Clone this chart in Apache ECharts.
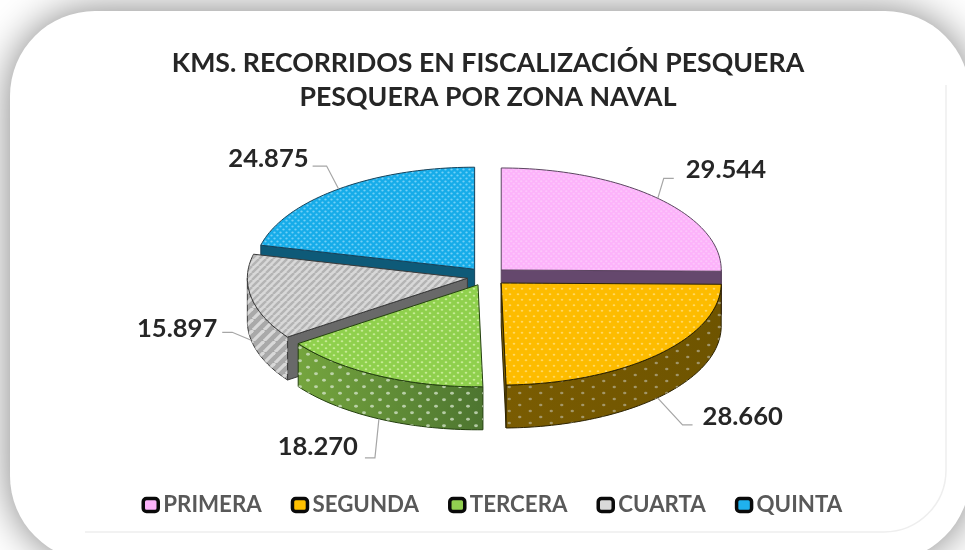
<!DOCTYPE html>
<html>
<head>
<meta charset="utf-8">
<style>html,body{margin:0;padding:0;background:#fff}#c{width:965px;height:550px;filter:blur(.45px)}</style>
<script src="https://cdn.jsdelivr.net/npm/echarts@6/dist/echarts.min.js"></script>
</head>
<body>
<div id="c"></div>
<script>
const titleText = 'KMS. RECORRIDOS EN FISCALIZACIÓN PESQUERA\nPESQUERA POR ZONA NAVAL';
const categories = ['PRIMERA', 'SEGUNDA', 'TERCERA', 'CUARTA', 'QUINTA'];
const values = [29544, 28660, 18270, 15897, 24875];

// ---- layout and styling (not data) ----
const drawOrder = [4, 0, 3, 2, 1];
const PIE = {cx: 487, cy: 276.5, rx: 220, ry: 102, depth: 43, explode: 20};
const leaders = [
  {dx: 6, dy: -20, run: 10, tx: 12, ty: -9},
  {dx: 25, dy: 27, run: 10, tx: 10, ty: -8},
  {dx: -4, dy: 39, run: -10, tx: -7, ty: -11},
  {dx: -19, dy: -8, run: -10, tx: -5, ty: -4},
  {dx: -12, dy: -23, run: -14, tx: -4, ty: -7}
];
function tile(w, h, base, draw) {
  const c = document.createElement('canvas');
  c.width = w; c.height = h;
  const g = c.getContext('2d');
  if (base) { g.fillStyle = base; g.fillRect(0, 0, w, h); }
  draw(g, w, h);
  return {type: 'pattern', image: c, repeat: 'repeat'};
}
function dots(w, h, base, col, r, stagger) {
  return tile(w, h, base, function (g) {
    g.fillStyle = col;
    const spots = stagger ? [[w / 4, h / 4], [3 * w / 4, 3 * h / 4]] : [[w / 2, h / 2]];
    spots.forEach(function (p) { g.beginPath(); g.ellipse(p[0], p[1], r * 1.2, r * 0.9, 0, 0, 7); g.fill(); });
  });
}
function stripes(w, base, col, lw) {
  return tile(w, w, base, function (g) {
    g.strokeStyle = col; g.lineWidth = lw;
    [-w, 0, w].forEach(function (o) {
      g.beginPath(); g.moveTo(o, w); g.lineTo(o + w, 0); g.stroke();
    });
  });
}
function vgrad(a, b) {
  return {type: 'linear', x: 0, y: 0, x2: 1, y2: 0, colorStops: [{offset: 0, color: a}, {offset: 1, color: b}]};
}
const looks = [
  {color: '#fdb3fb', top: dots(5, 5, '#fcb2fa', '#fcc6fb', 1, true), edge: '#5b4560', wall: '#5f4263', wallDots: null, face: '#65486d'},
  {color: '#ffc000', top: dots(8, 11, '#fdbc00', '#ffd861', 1.1, true), edge: '#2c2200', wall: vgrad('#7a5c02', '#6e5400'), wallDots: dots(21, 12, null, 'rgba(200,200,190,.55)', 1.4, true), face: '#7f6000'},
  {color: '#92d050', top: dots(8, 7, '#8fd04d', '#c6ea95', 1.1, true), edge: '#24400f', wall: vgrad('#75a53e', '#4d7530'), wallDots: dots(16, 13, null, 'rgba(215,230,205,.75)', 1.6, true), face: '#4f7a2d'},
  {color: '#d9d9d9', top: stripes(7, '#d8d8d8', '#b4b4b4', 2.4), edge: '#3a3a3a', wall: '#a9a9a9', wallDots: stripes(11, null, 'rgba(225,225,225,.85)', 3.2), face: '#696969'},
  {color: '#1fb1ee', top: dots(6, 6, '#16ace9', '#72d0f6', 1, true), edge: '#17425a', wall: '#0d506b', wallDots: null, face: '#0e5a78'}
];
const total = values.reduce(function (a, b) { return a + b; }, 0);
function startOf(i) {
  let s = 0;
  for (let k = 0; k < i; k++) s += values[k];
  return s / total * 360;
}
function fmt(v) { return (v / 1000).toFixed(3); }

function renderSlice(idx) {
  return function (params, api) {
    const v = api.value(0);
    const a0 = startOf(idx), a1 = a0 + v / total * 360, mid = (a0 + a1) / 2;
    const rad = Math.PI / 180;
    const ax = PIE.cx + PIE.explode * Math.sin(mid * rad);
    const ay = PIE.cy - PIE.explode * Math.cos(mid * rad) * PIE.ry / PIE.rx;
    const pt = function (a, d) {
      return [ax + PIE.rx * Math.sin(a * rad), ay - PIE.ry * Math.cos(a * rad) + (d || 0)];
    };
    const arc = function (from, to, d) {
      const out = [], n = Math.max(2, Math.ceil(Math.abs(to - from) / 1.5));
      for (let i = 0; i <= n; i++) out.push(pt(from + (to - from) * i / n, d));
      return out;
    };
    const look = looks[idx];
    const kids = [];
    const stroke = {stroke: look.edge, lineWidth: 1, lineJoin: 'round'};
    const face = function (a) {
      kids.push({type: 'polygon', shape: {points: [[ax, ay], pt(a), pt(a, PIE.depth), [ax, ay + PIE.depth]]},
        style: Object.assign({fill: look.face}, stroke)});
    };
    if (Math.sin(a0 * rad) < -1e-6) face(a0);
    if (Math.sin(a1 * rad) > 1e-6) face(a1);
    const w0 = Math.max(a0, 90), w1 = Math.min(a1, 270);
    if (w1 > w0) {
      const wall = arc(w0, w1, 0).concat(arc(w1, w0, PIE.depth));
      kids.push({type: 'polygon', shape: {points: wall}, style: Object.assign({fill: look.wall}, stroke)});
      if (look.wallDots) kids.push({type: 'polygon', shape: {points: wall}, style: {fill: look.wallDots}});
    }
    kids.push({type: 'polygon', shape: {points: [[ax, ay]].concat(arc(a0, a1, 0))},
      style: Object.assign({fill: look.top}, stroke)});
    // leader line and value label
    const L = leaders[idx];
    const front = mid > 90 && mid < 270;
    const rim = pt(mid, front ? PIE.depth : 0);
    const elbow = [rim[0] + L.dx, rim[1] + L.dy];
    const end = [elbow[0] + L.run, elbow[1]];
    kids.push({type: 'polyline', shape: {points: [rim, elbow, end]},
      style: {fill: 'none', stroke: '#a6a6a6', lineWidth: 1.2}});
    kids.push({type: 'text', style: {
      text: fmt(v), x: end[0] + L.tx, y: end[1] + L.ty,
      align: L.run > 0 ? 'left' : 'right', verticalAlign: 'middle',
      font: 'bold 25.6px Lato', fill: '#262626'
    }});
    return {type: 'group', children: kids};
  };
}

const series = drawOrder.map(function (idx) {
  return {
    type: 'custom', name: categories[idx], coordinateSystem: 'none',
    data: [[values[idx]]], animation: false, silent: true,
    itemStyle: {color: looks[idx].color},
    renderItem: renderSlice(idx)
  };
});

const chart = echarts.init(document.getElementById('c'), null, {renderer: 'canvas'});
const frameLine = {fill: 'none', stroke: '#eeeeee', lineWidth: 1.5};
chart.setOption({
  backgroundColor: '#fff',
  animation: false,
  title: {
    text: titleText, left: 483, top: 41, textAlign: 'center',
    textStyle: {fontFamily: 'Lato', fontWeight: 'bold', fontSize: 26.7, lineHeight: 34, color: '#262626'}
  },
  legend: {
    data: categories, left: 136.5, top: 489, itemWidth: 15, itemHeight: 13, itemGap: 29,
    icon: 'roundRect',
    itemStyle: {borderColor: '#0a0a0a', borderWidth: 3.5},
    textStyle: {fontFamily: 'Lato', fontWeight: 'bold', fontSize: 22.3, color: '#595959'},
    selectedMode: false
  },
  graphic: [
    {type: 'rect', z: -5, silent: true,
      shape: {x: 10, y: 11, width: 960, height: 550, r: 85},
      style: {fill: '#fff', shadowBlur: 40, shadowColor: 'rgba(0,0,0,.5)'}},
    {type: 'line', z: -4, silent: true, shape: {x1: 946, y1: 85, x2: 946, y2: 470}, style: frameLine},
    {type: 'arc', z: -4, silent: true, shape: {cx: 884, cy: 470, r: 62, startAngle: 0, endAngle: Math.PI / 2, clockwise: true}, style: frameLine},
    {type: 'line', z: -4, silent: true, shape: {x1: 85, y1: 532, x2: 884, y2: 532}, style: frameLine}
  ],
  series: series
});
</script>
</body>
</html>
